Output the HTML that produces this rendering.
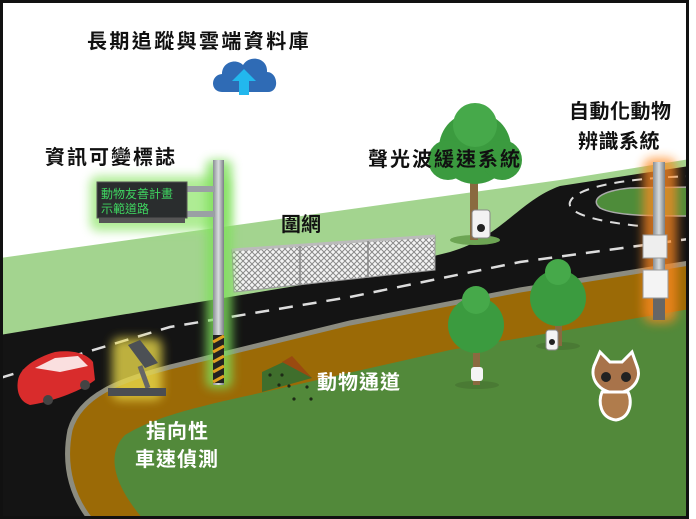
<!DOCTYPE html>
<html><head><meta charset="utf-8"><style>
html,body{margin:0;padding:0;background:#fff;}
svg{display:block;}
text{font-family:"Liberation Sans","Noto Sans CJK TC",sans-serif;font-weight:bold;}
</style></head><body>
<svg width="696" height="519" viewBox="0 0 696 519" xmlns="http://www.w3.org/2000/svg">
<defs>
<filter id="blur" x="-50%" y="-50%" width="200%" height="200%"><feGaussianBlur stdDeviation="5"/></filter>
<pattern id="mesh" width="6" height="6" patternUnits="userSpaceOnUse">
<rect width="6" height="6" fill="#f4f4f4"/>
<path d="M0,0 L6,6 M6,0 L0,6" stroke="#8a8a8a" stroke-width="1"/>
</pattern>
<linearGradient id="pole" x1="0" x2="1"><stop offset="0" stop-color="#8a8f94"/><stop offset="0.5" stop-color="#d8dcde"/><stop offset="1" stop-color="#7a7f84"/></linearGradient>
<clipPath id="frame"><rect x="2" y="2" width="685" height="515"/></clipPath>
</defs>
<g clip-path="url(#frame)">
<rect x="0" y="0" width="696" height="519" fill="#fff"/>
<path d="M0,258 L560,180 L696,158 L696,519 L0,519 Z" fill="#a3d48f"/>
<path d="M0,335 L350,277 L450,252 C500,238 520,200 560,186 L696,165 L696,262 L520,290 L350,323 L170,367 C120,380 80,395 70,430 C62,470 75,500 90,519 L0,519 Z" fill="#141414"/>
<path d="M696,187 L630,188 C600,191 590,200 600,208 C615,216 650,216 696,216 Z" fill="#4e8c3a"/>
<path d="M696,187 L630,188 C600,191 590,200 600,208 C615,216 650,216 696,216" fill="none" stroke="#aaa" stroke-width="1.5"/>
<path d="M696,262 L520,290 L350,323 L170,367 C120,380 80,395 70,430 C62,470 75,500 90,519 L696,519 Z" fill="#9b6a06"/>
<path d="M696,262 L520,290 L350,323 L170,367 C120,380 80,395 70,430 C62,470 75,500 90,519" fill="none" stroke="#8c8c80" stroke-width="5"/>
<path d="M696,308 L450,350 L260,393 C180,410 150,420 125,435 C108,452 110,480 143,519 L696,519 Z" fill="#52893a"/>
<path d="M0,378 L170,327 L350,297 L520,262 L696,238" fill="none" stroke="#ddd" stroke-width="2.5" stroke-dasharray="14 10"/>
<path d="M696,176 C620,178 575,188 570,202 C566,214 600,222 640,226" fill="none" stroke="#ddd" stroke-width="2" stroke-dasharray="10 8"/>
<path d="M262,372 L292,358 L312,378 L262,392 Z" fill="#3f6e2c"/>
<path d="M282,362 L292,356 L312,378 Z" fill="#9a4a10"/>
<g fill="#1d2b16"><circle cx="270" cy="375" r="1.6"/><circle cx="282" cy="375" r="1.6"/><circle cx="279" cy="385" r="1.6"/><circle cx="289" cy="386" r="1.6"/><circle cx="294" cy="399" r="1.6"/><circle cx="311" cy="399" r="1.6"/><circle cx="307" cy="387" r="1.6"/></g>
<path d="M232,250 L435,236 L435,270 L234,292 Z" fill="url(#mesh)" stroke="#999" stroke-width="1"/>
<path d="M232,250 L435,236" stroke="#bbb" stroke-width="3"/>
<path d="M300,246 L300,285 M368,241 L368,278" stroke="#888" stroke-width="1.5"/>
<rect x="90" y="176" width="140" height="55" rx="8" fill="#9be87a" opacity="0.8" filter="url(#blur)"/>
<rect x="206" y="160" width="26" height="228" rx="6" fill="#7ee05a" opacity="0.8" filter="url(#blur)"/>
<rect x="213" y="160" width="11" height="225" fill="url(#pole)"/>
<rect x="213" y="335" width="11" height="48" fill="#222"/>
<path d="M213,342 L224,336 M213,352 L224,346 M213,362 L224,356 M213,372 L224,366 M213,382 L224,376" stroke="#e0a020" stroke-width="3"/>
<rect x="185" y="186" width="30" height="6" fill="#9aa0a4"/>
<rect x="185" y="211" width="30" height="6" fill="#9aa0a4"/>
<rect x="97" y="182" width="90" height="36" fill="#2a2d2e" stroke="#555"/>
<rect x="99" y="218" width="86" height="5" fill="#555"/>
<text x="101" y="198" font-size="12" fill="#3fd460" style="font-weight:normal">動物友善計畫</text>
<text x="101" y="213" font-size="12" fill="#3fd460" style="font-weight:normal">示範道路</text>
<rect x="112" y="338" width="50" height="62" rx="8" fill="#e8d84a" opacity="0.8" filter="url(#blur)"/>
<path d="M128,345 L140,340 L158,363 L145,368 Z" fill="#4c5055"/>
<path d="M140,366 L148,388" stroke="#666" stroke-width="5"/>
<rect x="108" y="388" width="58" height="8" fill="#4a4d52"/>
<path d="M18,380 C20,368 35,358 55,352 C70,350 85,352 93,362 L95,380 C80,392 50,402 30,405 C20,402 16,392 18,380 Z" fill="#d92c2c"/>
<path d="M35,368 L55,358 L78,356 L88,366 L60,372 Z" fill="#fff" opacity="0.85"/>
<circle cx="48" cy="400" r="5" fill="#444"/><circle cx="85" cy="385" r="5" fill="#444"/>
<g>
<ellipse cx="475" cy="240" rx="25" ry="5" fill="#6da554"/>
<rect x="470" y="165" width="8" height="75" fill="#8a6a40"/>
<circle cx="475" cy="148" r="36" fill="#3b9b3f"/><circle cx="448" cy="160" r="20" fill="#3b9b3f"/><circle cx="502" cy="160" r="20" fill="#3b9b3f"/><circle cx="475" cy="125" r="22" fill="#46a94a"/>
<rect x="472" y="210" width="18" height="28" rx="3" fill="#f2f2f2" stroke="#888"/>
<circle cx="481" cy="228" r="4" fill="#222"/>
</g>
<g>
<ellipse cx="477" cy="385" rx="22" ry="4" fill="#4a7a34"/>
<rect x="473" y="340" width="7" height="45" fill="#8a6a40"/>
<circle cx="476" cy="325" r="28" fill="#3b9b3f"/><circle cx="476" cy="300" r="14" fill="#46a94a"/>
<rect x="471" y="367" width="12" height="14" rx="3" fill="#f4f4f4"/>
</g>
<g>
<ellipse cx="558" cy="346" rx="22" ry="4" fill="#4a7a34"/>
<rect x="555" y="310" width="7" height="36" fill="#8a6a40"/>
<circle cx="558" cy="298" r="28" fill="#3b9b3f"/><circle cx="558" cy="272" r="13" fill="#46a94a"/>
<rect x="546" y="330" width="12" height="20" rx="3" fill="#f4f4f4" stroke="#888"/>
<circle cx="552" cy="342" r="3" fill="#222"/>
</g>
<g>
<path d="M594,366 L600,352 L610,362 L622,362 L632,352 L637,366 C642,378 634,392 616,393 C598,392 590,378 594,366 Z" fill="#a8734a" stroke="#fff" stroke-width="3"/>
<circle cx="606" cy="377" r="5" fill="#222"/><circle cx="626" cy="377" r="5" fill="#222"/>
<path d="M602,392 C598,402 600,418 616,420 C630,418 633,402 628,392 Z" fill="#b07c4c" stroke="#fff" stroke-width="3"/>
</g>
<rect x="643" y="158" width="34" height="165" rx="10" fill="#ff8a20" opacity="0.75" filter="url(#blur)"/>
<rect x="653" y="162" width="12" height="158" fill="url(#pole)"/>
<rect x="653" y="295" width="12" height="25" fill="#666"/>
<rect x="643" y="235" width="24" height="23" fill="#eee" stroke="#999"/>
<rect x="643" y="270" width="25" height="28" fill="#f4f4f4" stroke="#999"/>
<path d="M222,92 C210,92 210,75 222,74 C222,62 236,58 243,65 C250,54 268,58 267,72 C278,72 280,92 268,92 Z" fill="#2f6bb5"/>
<path d="M244,69 L232,81 L239,81 L239,95 L249,95 L249,81 L256,81 Z" fill="#22b8ee"/>
<text x="87" y="48" font-size="20" letter-spacing="2.4" fill="#111">長期追蹤與雲端資料庫</text>
<text x="45" y="164" font-size="20" letter-spacing="2" fill="#111">資訊可變標誌</text>
<text x="368" y="166" font-size="20" letter-spacing="2" fill="#111">聲光波緩速系統</text>
<text x="569" y="118" font-size="20" letter-spacing="0.5" fill="#111">自動化動物</text>
<text x="578" y="148" font-size="20" letter-spacing="0.5" fill="#111">辨識系統</text>
<text x="281" y="231" font-size="20" fill="#111">圍網</text>
<text x="317" y="389" font-size="20" letter-spacing="1" fill="#fff">動物通道</text>
<text x="146" y="438" font-size="20" letter-spacing="1" fill="#fff">指向性</text>
<text x="135" y="466" font-size="20" letter-spacing="1" fill="#fff">車速偵測</text>
</g>
<rect x="1.5" y="1.5" width="686" height="516" fill="none" stroke="#111" stroke-width="3"/>
</svg>
</body></html>
